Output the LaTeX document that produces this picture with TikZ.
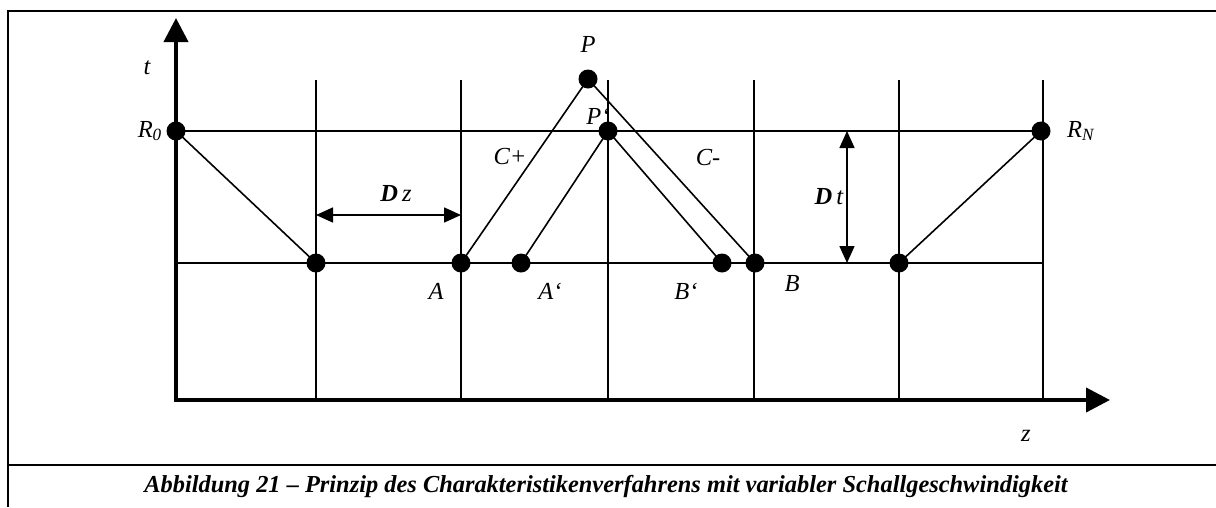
\documentclass[tikz,border=0pt]{standalone}
\usepackage{fontspec}
\setmainfont{Liberation Serif}
\usetikzlibrary{arrows.meta}
\tikzset{
  dot/.style={circle,fill=black,inner sep=0pt,minimum width=17pt,minimum height=19pt},
  lbl/.style={font=\fontsize{24.5}{28}\selectfont\itshape,inner sep=0pt},
  grid/.style={line width=1.6pt},
  axis/.style={line width=4pt,-{Triangle[length=24pt,width=24pt]}},
  dim/.style={line width=1.6pt,{Triangle[length=17pt,width=15pt]}-{Triangle[length=17pt,width=15pt]}},
  char/.style={line width=1.6pt}
}
\begin{document}
\begin{tikzpicture}[x=1pt,y=-1pt]
\useasboundingbox (0,0) rectangle (1216,507);
% frame
\draw[line width=2pt] (8,507) -- (8,11) -- (1216,11);
\draw[line width=2pt] (8,465) -- (1216,465);
% grid
\foreach \x in {316,461,608,754,899,1043} \draw[grid] (\x,80) -- (\x,400);
\draw[grid] (176,131) -- (1043,131);
\draw[grid] (176,263) -- (1043,263);
% axes
\coordinate (O) at (176,400);
\coordinate (tt) at (176,18);
\coordinate (zz) at (1110,400);
\draw[axis] (176,402) -- (tt);
\draw[axis] (174,400) -- (zz);
% points
\node[dot] (R0) at (176,131) {};
\node[dot] (Q1) at (316,263) {};
\node[dot] (A) at (461,263) {};
\node[dot] (A1) at (521,263) {};
\node[dot] (P) at (588,79) {};
\node[dot] (P1) at (608,131) {};
\node[dot] (B1) at (722,263) {};
\node[dot] (B) at (755,263) {};
\node[dot] (Q2) at (899,263) {};
\node[dot] (RN) at (1041,131) {};
% characteristics
\draw[char] (R0.center) -- (Q1.center);
\draw[char] (A.center) -- (P.center);
\draw[char] (P.center) -- (B.center);
\draw[char] (A1.center) -- (P1.center);
\draw[char] (P1.center) -- (B1.center);
\draw[char] (Q2.center) -- (RN.center);
% dimension arrows
\coordinate (dz1) at (316,215);
\coordinate (dz2) at (461,215);
\draw[dim] (dz1) -- (dz2);
\coordinate (dt1) at (847,131);
\coordinate (dt2) at (847,263);
\draw[dim] (dt1) -- (dt2);
% labels
\node[lbl] (lt) at (147,68) {t};
\node[lbl,anchor=east] (lR0) at (162,131) {R\textsubscript{0}};
\node[lbl] (lP) at (588,44) {P};
\node[lbl] (lP1) at (598,116) {P‘};
\node[lbl] (lCp) at (510,156) {C+};
\node[lbl] (lCm) at (708,157) {C-};
\node[lbl] (lA) at (436,291) {A};
\node[lbl] (lA1) at (550,291) {A‘};
\node[lbl] (lB1) at (686,291) {B‘};
\node[lbl] (lB) at (792,284) {B};
\node[lbl,anchor=west] (lRN) at (1067,131) {R\textsubscript{N}};
\node[lbl] (lz) at (1026,436) {z};
\node[lbl] (ldz) at (396,193) {\textbf{D}\,z};
\node[lbl] (ldt) at (829,197) {\textbf{D}\,t};
% caption
\node[font=\fontsize{24.4}{28}\selectfont\bfseries\itshape,inner sep=0pt] (cap) at (606,486)
  {Abbildung 21 – Prinzip des Charakteristikenverfahrens mit variabler Schallgeschwindigkeit};
\end{tikzpicture}
\end{document}
